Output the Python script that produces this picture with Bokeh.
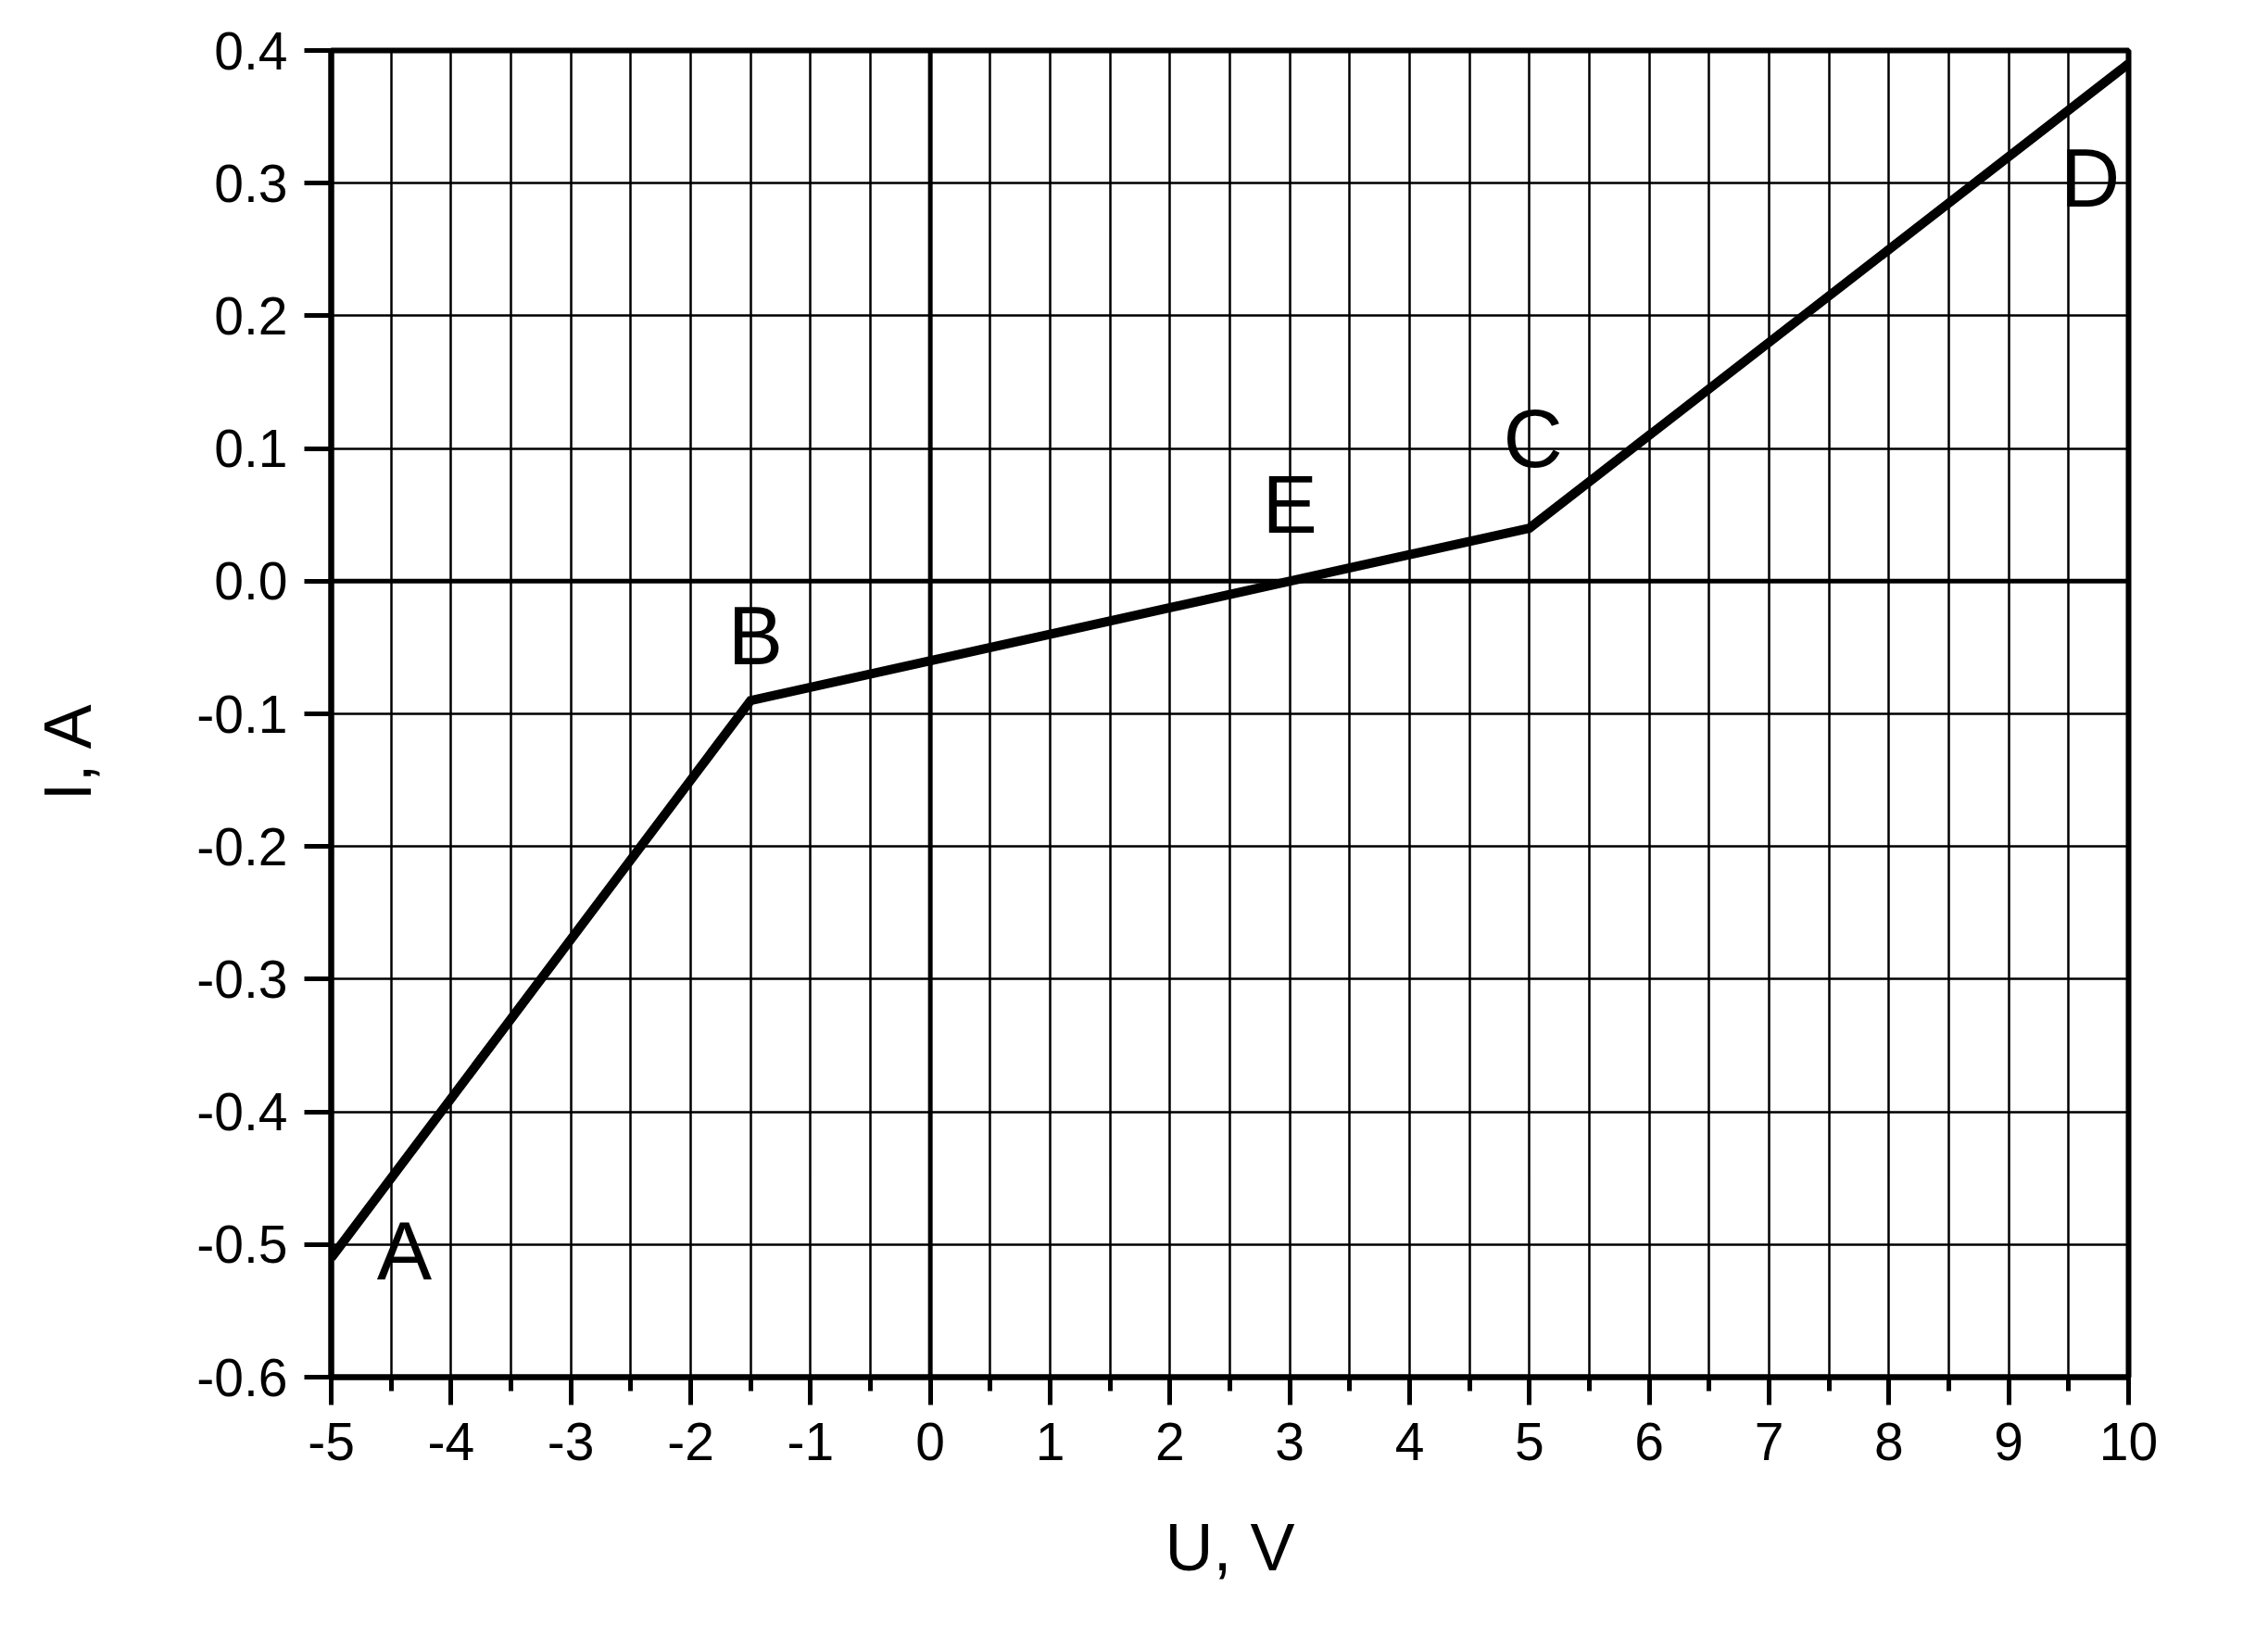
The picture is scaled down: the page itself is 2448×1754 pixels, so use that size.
import numpy as np
from bokeh.plotting import figure
from bokeh.models import (Range1d, FixedTicker, Span, ColumnDataSource)
from bokeh.core.properties import value
from bokeh.embed import file_html
from bokeh.resources import INLINE

# ---- data ----
u_volts = [-5.0, -1.5, 5.0, 10.0]
i_amps = [-0.51, -0.09, 0.04, 0.39]

point_names = ["A", "B", "E", "C", "D"]
point_u = [-4.39, -1.46, 3.0, 5.03, 9.68]
point_i = [-0.505, -0.041, 0.058, 0.108, 0.304]

x_ticks = [-5, -4, -3, -2, -1, 0, 1, 2, 3, 4, 5, 6, 7, 8, 9, 10]
x_tick_labels = ["-5", "-4", "-3", "-2", "-1", "0", "1", "2", "3", "4", "5", "6", "7", "8", "9", "10"]
x_minor = [-4.5, -3.5, -2.5, -1.5, -0.5, 0.5, 1.5, 2.5, 3.5, 4.5, 5.5, 6.5, 7.5, 8.5, 9.5]
y_ticks = [-0.6, -0.5, -0.4, -0.3, -0.2, -0.1, 0.0, 0.1, 0.2, 0.3, 0.4]
y_tick_labels = ["-0.6", "-0.5", "-0.4", "-0.3", "-0.2", "-0.1", "0.0", "0.1", "0.2", "0.3", "0.4"]

x_label = "U, V"
y_label = "I, A"

FONT = "Liberation Sans"
NBSP = "\u00a0"

p = figure(width=2432, height=1738, output_backend="svg", toolbar_location=None,
           x_range=Range1d(-5, 10), y_range=Range1d(-0.6, 0.4),
           min_border_left=357, min_border_right=135, min_border_top=54, min_border_bottom=252)
p.background_fill_color = "white"
p.border_fill_color = "white"
p.outline_line_color = "black"
p.outline_line_width = 6

# grids
p.xgrid.ticker = FixedTicker(ticks=sorted(x_ticks + x_minor))
p.ygrid.ticker = FixedTicker(ticks=y_ticks)
for g in (p.xgrid, p.ygrid):
    g.grid_line_color = "black"
    g.grid_line_width = 2.5
    g.grid_line_alpha = 1.0

# x axis
xa = p.xaxis[0]
xa.ticker = FixedTicker(ticks=x_ticks, minor_ticks=x_minor)
xa.major_label_overrides = {t: l for t, l in zip(x_ticks, x_tick_labels)}
xa.axis_line_width = 6
xa.axis_line_color = "black"
xa.major_tick_line_width = 5
xa.major_tick_line_color = "black"
xa.major_tick_out = 30
xa.major_tick_in = 0
xa.minor_tick_line_width = 5
xa.minor_tick_line_color = "black"
xa.minor_tick_out = 15
xa.minor_tick_in = 0
xa.major_label_text_font = FONT
xa.major_label_text_font_size = "57px"
xa.major_label_text_color = "black"
xa.major_label_standoff = 19
xa.axis_label = x_label
xa.axis_label_text_font = FONT
xa.axis_label_text_font_size = "72px"
xa.axis_label_text_font_style = "normal"
xa.axis_label_text_color = "black"
xa.axis_label_standoff = 51

# y axis
ya = p.yaxis[0]
ya.ticker = FixedTicker(ticks=y_ticks)
ya.major_label_overrides = {t: l for t, l in zip(y_ticks, y_tick_labels)}
ya.axis_line_width = 6
ya.axis_line_color = "black"
ya.major_tick_line_width = 5
ya.major_tick_line_color = "black"
ya.major_tick_out = 29
ya.major_tick_in = 0
ya.minor_tick_line_color = None
ya.major_label_text_font = FONT
ya.major_label_text_font_size = "57px"
ya.major_label_text_color = "black"
ya.major_label_standoff = 18
# trailing non-breaking spaces shift the visible title slightly below the frame centre
ya.axis_label = y_label + NBSP * 4
ya.axis_label_text_font = FONT
ya.axis_label_text_font_size = "72px"
ya.axis_label_text_font_style = "normal"
ya.axis_label_text_color = "black"
ya.axis_label_standoff = 96

# zero lines
p.add_layout(Span(location=0, dimension="height", line_color="black", line_width=5))
p.add_layout(Span(location=0, dimension="width", line_color="black", line_width=5))

# curve
p.line(u_volts, i_amps, line_color="black", line_width=10, line_join="miter")

# point letters
src = ColumnDataSource(dict(x=point_u, y=point_i, t=point_names))
p.text(x="x", y="y", text="t", source=src, text_font=value(FONT), text_font_size="89px",
       text_align="center", text_baseline="middle", text_color="black")

open("out.html", "w").write(file_html(p, INLINE))
